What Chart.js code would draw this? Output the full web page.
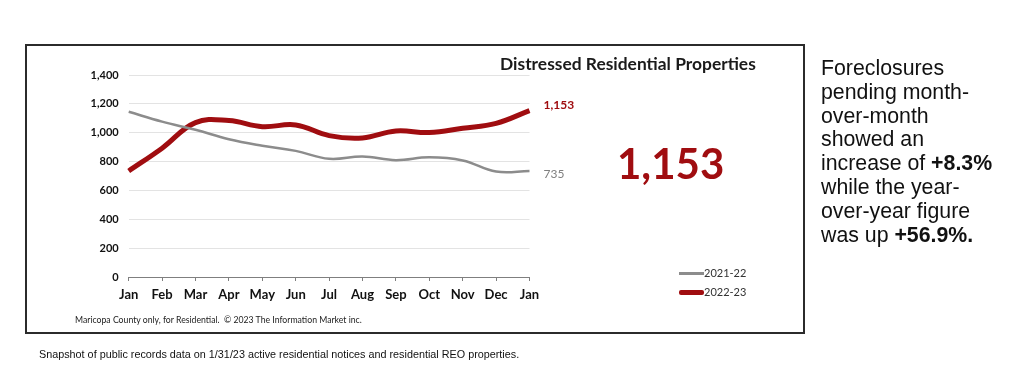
<!DOCTYPE html>
<html><head><meta charset="utf-8">
<script src="https://cdn.jsdelivr.net/npm/chart.js@4/dist/chart.umd.min.js"></script>
<style>
html,body{margin:0;padding:0;background:#fff;width:1024px;height:373px;overflow:hidden;position:relative;}
#box{position:absolute;left:25px;top:44px;width:776px;height:286px;border:2px solid #2b2b2b;}
#c{position:absolute;left:0;top:0;}
.t{position:absolute;white-space:nowrap;}
#title{left:500px;top:53px;font:bold 17.4px Lato,sans-serif;color:#1a1a1a;}
#foot{left:75px;top:314px;font:8.7px Lato,sans-serif;color:#222;}
#snap{left:39px;top:348px;font:10.8px "Liberation Sans",Arial,sans-serif;color:#111;}
#side{left:821px;top:57px;font:21.3px "Liberation Sans",Arial,sans-serif;line-height:23.8px;color:#111;white-space:normal;width:203px;}
.lg{position:absolute;font:11px Lato,sans-serif;color:#333;}
.sw{position:absolute;}
</style></head><body>
<div id="box"></div>
<canvas id="c" width="1024" height="373"></canvas>
<div class="t" id="title">Distressed Residential Properties</div>
<div class="t" id="foot">Maricopa County only, for Residential.&nbsp; © 2023 The Information Market inc.</div>
<div class="t" id="snap">Snapshot of public records data on 1/31/23 active residential notices and residential REO properties.</div>
<div class="t" id="side">Foreclosures<br>pending month-<br>over-month<br>showed an<br>increase of <b>+8.3%</b><br>while the year-<br>over-year figure<br>was up <b>+56.9%.</b></div>
<div class="sw" style="left:679px;top:272px;width:25px;height:3px;background:#8c8c8c;"></div>
<div class="lg" style="left:704px;top:266px;">2021-22</div>
<div class="sw" style="left:679px;top:290px;width:25px;height:5px;background:#a00d10;border-radius:2px;"></div>
<div class="lg" style="left:704px;top:285px;">2022-23</div>
<script>
const months = ["Jan","Feb","Mar","Apr","May","Jun","Jul","Aug","Sep","Oct","Nov","Dec","Jan"];
const series2122 = [1145,1077,1020,955,910,874,819,835,810,830,808,731,735];
const series2223 = [735,893,1070,1084,1042,1054,980,964,1012,1001,1031,1065,1153];
const yTicks = [0,200,400,600,800,1000,1200,1400];
const GRAY = '#8c8c8c', RED = '#a00d10';
const fmt = v => v.toLocaleString('en-US');

const endLabels = {
  id:'endLabels',
  afterDatasetsDraw(chart){
    const ctx = chart.ctx;
    const x = chart.scales.x, y = chart.scales.y;
    const last = months.length-1;
    const lx = x.getPixelForValue(last)+14;
    ctx.save();
    ctx.textBaseline='middle';
    ctx.textAlign='left';
    ctx.font='bold 12px Lato, sans-serif';
    ctx.fillStyle=RED;
    ctx.fillText(fmt(series2223[last]), lx, y.getPixelForValue(series2223[last])-6);
    ctx.font='12px Lato, sans-serif';
    ctx.fillStyle='#7f7f7f';
    ctx.fillText(fmt(series2122[last]), lx, y.getPixelForValue(series2122[last])+3);
    ctx.font='bold 42px Lato, sans-serif';
    ctx.fillStyle=RED;
    ctx.fillText(fmt(series2223[last]), 617, 165);
    ctx.restore();
  }
};

new Chart(document.getElementById('c'), {
  type:'line',
  data:{labels:months, datasets:[
    {label:'2021-22', data:series2122, borderColor:GRAY, borderWidth:2.5, tension:0.4, pointRadius:0, fill:false},
    {label:'2022-23', data:series2223, borderColor:RED, borderWidth:5, tension:0.4, pointRadius:0, fill:false}
  ]},
  options:{
    responsive:false, animation:false, devicePixelRatio:1,
    layout:{padding:{left:78.7, right:494.5, top:75, bottom:65}},
    plugins:{legend:{display:false}, tooltip:{enabled:false}},
    scales:{
      x:{
        offset:false,
        afterFit(s){s.height=31;},
        grid:{drawOnChartArea:false, drawTicks:true, tickLength:4, color:'#7f7f7f', lineWidth:1},
        border:{display:true, color:'#7f7f7f', width:1},
        ticks:{color:'#111', font:{family:'Lato', size:13, weight:'bold'}, padding:6, autoSkip:false, maxRotation:0}
      },
      y:{
        min:0, max:1400,
        afterFit(s){s.width=50;},
        afterBuildTicks(s){s.ticks = yTicks.map(v=>({value:v}));},
        grid:{color:'#e3e3e3', lineWidth:1, drawTicks:false},
        border:{display:false},
        ticks:{color:'#111', font:{family:'Lato', size:11, weight:'bold'}, padding:10, callback:v=>fmt(v)}
      }
    }
  },
  plugins:[endLabels]
});
</script>
</body></html>
